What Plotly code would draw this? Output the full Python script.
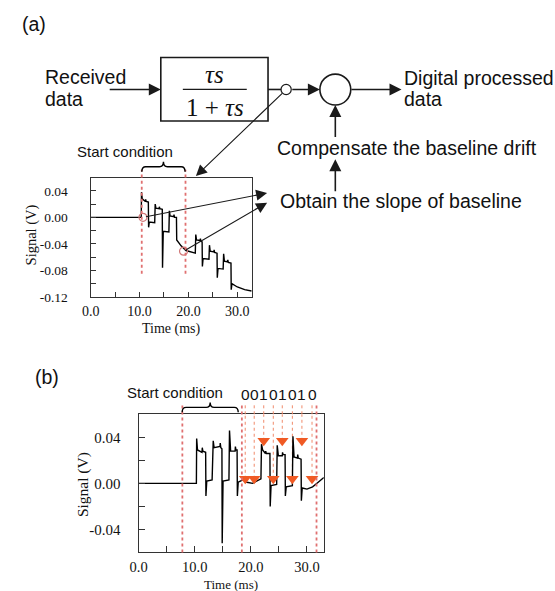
import plotly.graph_objects as go

W, H = 555, 591


def px(x):
    return x / W


def py(y):
    return 1 - y / H


# ---------------- data ----------------
# panel (a): signal before baseline compensation
a_time = [0, 10.35, 10.4, 10.55, 11.2, 11.25, 11.35, 11.8, 11.85, 12.0, 13.1,
          13.2, 13.35, 14.0, 14.05, 14.15, 14.65, 14.7, 14.85, 16.0,
          16.1, 16.25, 17.0, 17.05, 17.15, 17.55, 17.6, 18.5, 19.5, 21.4,
          21.5, 21.65, 22.4, 22.45, 22.55, 22.8, 22.85, 23.0, 24.2,
          24.3, 24.45, 25.2, 25.25, 25.35, 25.85, 25.9, 26.05, 27.1,
          27.2, 27.35, 28.0, 28.05, 28.15, 28.7, 28.75, 28.9, 30.0, 31.5, 32.9]
a_signal = [0, 0, 0.038, 0.028, 0.024, 0.027, 0.024, 0.023, -0.015, -0.007, -0.008,
            0.020, 0.014, 0.013, 0.016, 0.013, 0.012, -0.076, -0.021, -0.022,
            0.010, 0.002, 0.001, 0.004, 0.000, 0.000, -0.034, -0.043, -0.050, -0.054,
            -0.026, -0.034, -0.035, -0.032, -0.036, -0.037, -0.074, -0.062, -0.063,
            -0.042, -0.051, -0.052, -0.049, -0.053, -0.054, -0.091, -0.077, -0.078,
            -0.055, -0.066, -0.067, -0.064, -0.068, -0.069, -0.109, -0.100, -0.105, -0.109, -0.111]
a_mark_time = [10.7, 19.0]
a_mark_signal = [0.0, -0.051]
a_start_lines = [10.45, 19.4]

# panel (b): signal after baseline compensation
b_time = [0, 10.3, 10.35, 10.5, 11.3, 11.35, 11.45, 11.95, 12.0, 12.15, 13.1,
          13.3, 13.45, 14.5, 14.55, 14.65, 14.85, 14.9, 15.05, 16.1,
          16.2, 16.4, 17.2, 17.25, 17.35, 17.55, 17.6, 17.75, 18.6, 19.3, 20.3, 21.2, 21.8,
          21.9, 22.1, 22.6, 22.65, 22.75, 23.4, 23.45, 23.6, 24.6,
          24.7, 24.9, 25.6, 25.65, 25.75, 26.1, 26.15, 26.3, 27.4,
          27.5, 27.7, 28.3, 28.35, 28.45, 28.95, 29.0, 29.15, 30.0, 31.0, 32.0, 33.0]
b_signal = [0, 0, 0.039, 0.029, 0.027, 0.031, 0.028, 0.027, -0.011, 0.002, 0.003,
            0.037, 0.031, 0.032, 0.035, 0.031, 0.030, -0.052, 0.002, 0.003,
            0.046, 0.028, 0.028, 0.032, 0.029, 0.029, -0.011, 0.001, 0.003, 0.001, 0.000, 0.002, 0.004,
            0.034, 0.029, 0.026, 0.028, 0.026, 0.026, -0.020, -0.002, -0.001,
            0.033, 0.024, 0.024, 0.027, 0.025, 0.025, -0.011, -0.003, -0.002,
            0.041, 0.023, 0.022, 0.025, 0.022, 0.021, -0.015, -0.004, -0.005, -0.003, 0.001, 0.005]
b_start_lines = [7.8, 18.4, 31.7]
bit_time = [19.0, 20.6, 22.3, 24.0, 25.6, 27.4, 29.1, 30.9]
bit_signal = [0.004, 0.004, 0.037, 0.004, 0.037, 0.004, 0.037, 0.004]
bit_labels = ["0", "0", "1", "0", "1", "0", "1", "0"]

x_tickvals = [0, 5, 10, 15, 20, 25, 30]
x_ticktext = ["0.0", "", "10.0", "", "20.0", "", "30.0"]
a_ytickvals = [-0.12, -0.10, -0.08, -0.06, -0.04, -0.02, 0.0, 0.02, 0.04]
a_yticktext = ["-0.12", "", "-0.08", "", "-0.04", "", "0.00", "", "0.04"]
b_ytickvals = [-0.04, -0.02, 0.0, 0.02, 0.04]
b_yticktext = ["-0.04", "", "0.00", "", "0.04"]

RED = "#e07070"
ORANGE = "#f05a24"
SANS = "Liberation Sans"
SERIF = "Liberation Serif"

fig = go.Figure()
fig.add_trace(go.Scatter(x=a_time, y=a_signal, mode="lines", xaxis="x", yaxis="y",
                         line=dict(color="black", width=1.4), showlegend=False))
fig.add_trace(go.Scatter(x=a_mark_time, y=a_mark_signal, mode="markers", xaxis="x", yaxis="y",
                         marker=dict(symbol="circle-open", size=8, color="#d07878",
                                     line=dict(width=1.2)), showlegend=False))
fig.add_trace(go.Scatter(x=b_time, y=b_signal, mode="lines", xaxis="x2", yaxis="y2",
                         line=dict(color="black", width=1.4), showlegend=False))
fig.add_trace(go.Scatter(x=bit_time, y=bit_signal, mode="markers", xaxis="x2", yaxis="y2",
                         marker=dict(symbol="triangle-down", size=11, color=ORANGE),
                         showlegend=False))

shapes = []
# red dotted start-condition lines (a)
for t in a_start_lines:
    shapes.append(dict(type="line", xref="x", yref="y", x0=t, x1=t, y0=-0.085, y1=0.06,
                       line=dict(color=RED, width=1.8, dash="dot")))
    shapes.append(dict(type="line", xref="x", yref="y domain", x0=t, x1=t, y0=1.0, y1=1.065,
                       line=dict(color=RED, width=1.8, dash="dot")))
# red dotted lines (b)
for t in b_start_lines:
    shapes.append(dict(type="line", xref="x2", yref="y2 domain", x0=t, x1=t, y0=0.0, y1=1.07,
                       line=dict(color=RED, width=1.8, dash="dot")))
# orange dotted bit lines (b)
for t, v in zip(bit_time, bit_signal):
    shapes.append(dict(type="line", xref="x2", yref="y2", x0=t, x1=t, y0=v, y1=0.06,
                       layer="below", line=dict(color="#f08a6a", width=1, dash="dot")))
    shapes.append(dict(type="line", xref="x2", yref="y2 domain", x0=t, x1=t, y0=1.0, y1=1.085,
                       line=dict(color="#f08a6a", width=1, dash="dot")))


def brace(x0, x1, ytop, ybot):
    xm = (x0 + x1) / 2
    ym = (ytop + ybot) / 2
    r = 4
    pts = [("M", x0, ybot), ("Q", x0, ym), ("", x0 + r, ym), ("L", xm - r, ym),
           ("Q", xm, ym), ("", xm, ytop), ("Q", xm, ym), ("", xm + r, ym),
           ("L", x1 - r, ym), ("Q", x1, ym), ("", x1, ybot)]
    s = ""
    for c, x, y in pts:
        s += f"{c}{px(x):.5f},{py(y):.5f} "
    return dict(type="path", xref="paper", yref="paper", path=s.strip(),
                line=dict(color="black", width=1.4))


shapes.append(brace(135, 179, 164, 174))
shapes.append(brace(176, 233, 408, 418))

# block diagram
DK = "#1a1a1a"
shapes.append(dict(type="rect", xref="paper", yref="paper", x0=px(154.3), x1=px(263.3),
                   y0=py(122.7), y1=py(58.3), line=dict(color=DK, width=1.6)))
shapes.append(dict(type="line", xref="paper", yref="paper", x0=px(176.7), x1=px(241.7),
                   y0=py(90.7), y1=py(90.7), line=dict(color=DK, width=1.2)))
shapes.append(dict(type="line", xref="paper", yref="paper", x0=px(263.3), x1=px(276.7),
                   y0=py(90.7), y1=py(90.7), line=dict(color=DK, width=1.6)))
shapes.append(dict(type="circle", xref="paper", yref="paper", x0=px(276.5), x1=px(286.9),
                   y0=py(95.9), y1=py(85.5), line=dict(color=DK, width=1.2)))
shapes.append(dict(type="circle", xref="paper", yref="paper", x0=px(316.0), x1=px(347.4),
                   y0=py(106.5), y1=py(75.1), line=dict(color=DK, width=1.6)))

annotations = []


def arrow(x0, y0, x1, y1, width=1.6, size=1.5):
    return dict(x=px(x1), y=py(y1), xref="paper", yref="paper", ax=x0 - x1, ay=y0 - y1,
                axref="pixel", ayref="pixel", showarrow=True, arrowhead=2,
                arrowsize=size, arrowwidth=width, arrowcolor=DK, text="")


annotations.append(arrow(101.7, 90.7, 154.3, 90.7))
annotations.append(arrow(286.9, 90.7, 316.0, 90.7))
annotations.append(arrow(347.4, 90.7, 399, 90.7))
annotations.append(arrow(331.7, 140, 331.7, 106.5))
annotations.append(arrow(331.7, 195, 331.7, 161.5))
annotations.append(arrow(277.8, 94.3, 190, 178.5, width=1.1, size=2.0))

# arrows from the marked points in (a) to "Obtain the slope of baseline"
for t, v, hx, hy in zip(a_mark_time, a_mark_signal, [36.4, 36.4], [0.037, 0.0235]):
    annotations.append(dict(x=t, y=v, xref="x", yref="y", ax=hx, ay=hy, axref="x", ayref="y",
                            showarrow=True, arrowside="start", arrowhead=2, startarrowhead=2,
                            startarrowsize=2.0, arrowsize=2.0, arrowwidth=1.1, standoff=3,
                            arrowcolor=DK, text=""))


def label(text, x, y, size=19.5, xanchor="left", font=SANS, angle=0, color="#111"):
    return dict(text=text, x=px(x), y=py(y), xref="paper", yref="paper", showarrow=False,
                xanchor=xanchor, yanchor="middle", textangle=angle,
                font=dict(family=font, size=size, color=color))


annotations += [
    label("(a)", 11, 24),
    label("(b)", 24, 382),
    label("Received", 35, 78.5),
    label("data", 35, 100),
    label("Digital processed", 399, 79),
    label("data", 399, 100.5),
    label("Compensate the baseline drift", 270, 150.5),
    label("Obtain the slope of baseline", 273, 203.5),
    label("<i>τs</i>", 209, 76, size=25, xanchor="center", font=SERIF),
    label("1 + <i>τs</i>", 209, 108.5, size=25, xanchor="center", font=SERIF),
    label("Start condition", 118, 153.5, size=15, xanchor="center"),
    label("Start condition", 168.5, 398, size=15, xanchor="center"),
    label("Signal (V)", 23, 238, size=14.5, xanchor="center", font=SERIF, angle=-90),
    label("Time (ms)", 165, 334, size=14, xanchor="center", font=SERIF),
    label("Signal (V)", 76, 491, size=15.5, xanchor="center", font=SERIF, angle=-90),
    label("Time (ms)", 226, 592.5, size=13, xanchor="center", font=SERIF),
]
for t, b in zip(bit_time, bit_labels):
    annotations.append(dict(text=b, x=t, y=1.14, xref="x2", yref="y2 domain", showarrow=False,
                            xanchor="center", yanchor="middle",
                            font=dict(family=SANS, size=15.5, color="#111")))

axis_common = dict(showline=True, mirror=True, linecolor="#333", linewidth=1.2,
                   ticks="inside", tickcolor="#333", tickwidth=1.2, showgrid=False,
                   zeroline=False, tickmode="array")

fig.update_layout(
    width=W, height=H, margin=dict(l=0, r=0, t=0, b=0),
    paper_bgcolor="white", plot_bgcolor="rgba(0,0,0,0)", showlegend=False,
    xaxis=dict(domain=[px(83), px(247)], range=[0, 33], anchor="y",
               tickvals=x_tickvals, ticktext=x_ticktext, ticklen=5, ticklabelstandoff=1,
               tickfont=dict(family=SERIF, size=14, color="#111"), **axis_common),
    yaxis=dict(domain=[py(301), py(180)], range=[-0.12, 0.06], anchor="x",
               tickvals=a_ytickvals, ticktext=a_yticktext, ticklen=5, ticklabelstandoff=19,
               tickfont=dict(family=SERIF, size=13.5, color="#111"), **axis_common),
    xaxis2=dict(domain=[px(131.7), px(320)], range=[0, 33], anchor="y2",
                tickvals=x_tickvals, ticktext=x_ticktext, ticklen=6, ticklabelstandoff=1,
                tickfont=dict(family=SERIF, size=14.5, color="#111"), **axis_common),
    yaxis2=dict(domain=[py(560), py(420)], range=[-0.06, 0.06], anchor="x2",
                tickvals=b_ytickvals, ticktext=b_yticktext, ticklen=6, ticklabelstandoff=14,
                tickfont=dict(family=SERIF, size=15, color="#111"), **axis_common),
    shapes=shapes,
    annotations=annotations,
)

fig.write_html("out.html")
